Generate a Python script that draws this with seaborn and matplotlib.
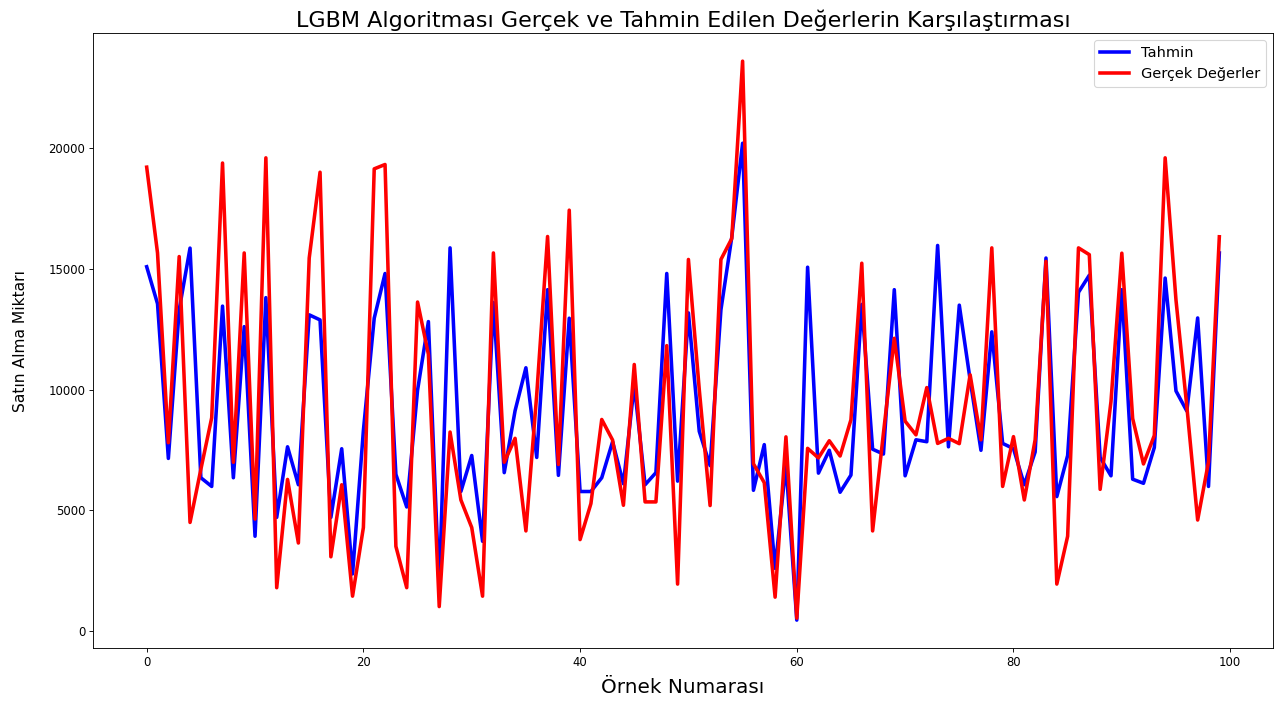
import numpy as np
import pandas as pd
import matplotlib
matplotlib.use("Agg")
import matplotlib.pyplot as plt
import seaborn as sns

# Values (100 samples)
tahmin = [
    15080, 13550, 7150, 13300, 15850, 6350, 5990, 13450, 6350, 12600,
    3930, 13800, 4710, 7630, 6060, 13090, 12880, 4710, 7550, 2370,
    8300, 12950, 14800, 6490, 5140, 9970, 12810, 1730, 15860, 5780,
    7270, 3720, 13600, 6560, 9120, 10900, 7190, 14130, 6450, 12950,
    5780, 5780, 6350, 7840, 6100, 10200, 6060, 6560, 14800, 6210,
    13170, 8270, 6850, 13300, 16300, 20190, 5830, 7720, 2600, 6900,
    460, 15060, 6540, 7485, 5750, 6460, 13520, 7530, 7330, 14130,
    6430, 7920, 7840, 15960, 7630, 13490, 10400, 7485, 12385, 7770,
    7555, 6060, 7415, 15440, 5570, 7270, 14020, 14730, 7190, 6430,
    14130, 6290, 6120, 7600, 14610, 9940, 9110, 12960, 5990, 15650,
]

gercek = [
    19200, 15650, 7800, 15500, 4500, 6700, 8830, 19370, 6990, 15650,
    4640, 19585, 1800, 6280, 3650, 15440, 18990, 3080, 6060, 1450,
    4290, 19130, 19310, 3510, 1800, 13620, 11460, 1020, 8240, 5430,
    4290, 1450, 15650, 6990, 7980, 4150, 9800, 16330, 6900, 17420,
    3790, 5280, 8760, 7910, 5210, 11035, 5350, 5350, 11815, 1950,
    15380, 10000, 5200, 15380, 16245, 23585, 6930, 6145, 1410, 8040,
    540, 7565, 7170, 7880, 7250, 8750, 15225, 4150, 8200, 12120,
    8690, 8125, 10080, 7770, 7980, 7760, 10610, 7920, 15860, 5990,
    8050, 5430, 7920, 15300, 1950, 3930, 15860, 15580, 5870, 9500,
    15640, 8800, 6920, 8100, 19585, 13700, 9300, 4600, 7000, 16320,
]

ornek = np.arange(len(tahmin))

df = pd.DataFrame({"Örnek": ornek, "Tahmin": tahmin, "Gerçek": gercek})

fig, ax = plt.subplots(figsize=(16, 8.8375), dpi=80)
fig.subplots_adjust(left=0.0727, right=0.9945, top=0.953, bottom=0.0834)

sns.lineplot(data=df, x="Örnek", y="Tahmin", color="blue", linewidth=3.2, label="Tahmin", ax=ax)
sns.lineplot(data=df, x="Örnek", y="Gerçek", color="red", linewidth=3.2, label="Gerçek Değerler", ax=ax)

ax.set_title("LGBM Algoritması Gerçek ve Tahmin Edilen Değerlerin Karşılaştırması", fontsize=20)
ax.set_xlabel("Örnek Numarası", fontsize=18, labelpad=8)
ax.set_ylabel("Satın Alma Miktarı", fontsize=14, labelpad=18)
ax.tick_params(labelsize=10.5)
ax.legend(loc="upper right", fontsize=13)

fig.savefig("out.png", dpi=80)
